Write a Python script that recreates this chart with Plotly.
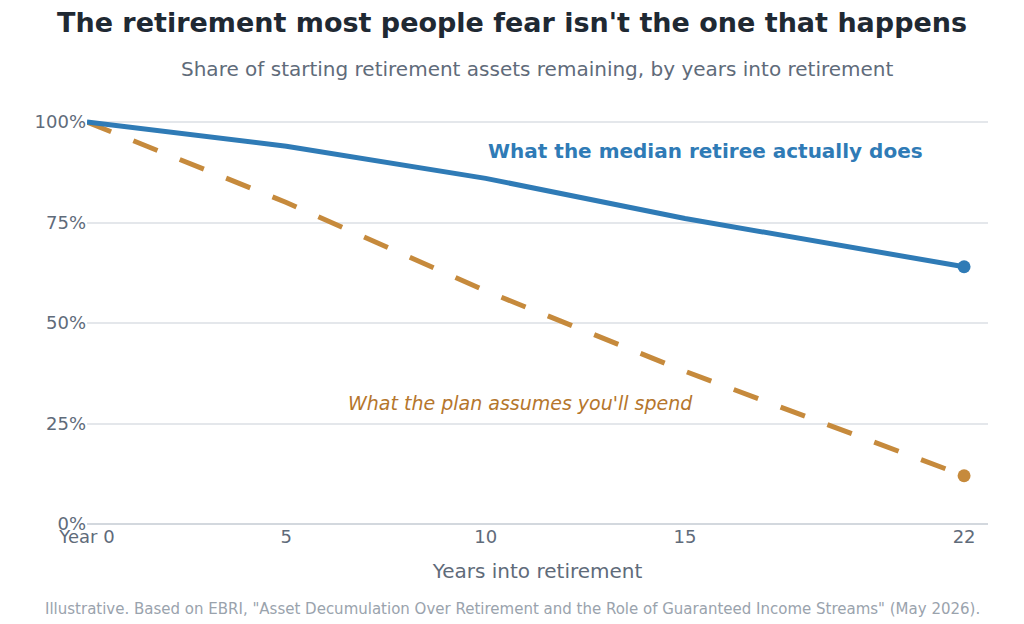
import plotly.graph_objects as go

years = [0, 5, 10, 15, 22]
actual = [1.00, 0.94, 0.86, 0.76, 0.64]
planned = [1.00, 0.80, 0.58, 0.38, 0.12]

x_ticks = [0, 5, 10, 15, 22]
x_labels = ["Year 0", "5", "10", "15", "22"]
y_ticks = [0, 0.25, 0.5, 0.75, 1.0]

BLUE = "#2f7bb6"
GOLD = "#c68a3c"
GOLD_TEXT = "#b5762c"
GREY = "#5f6b7a"
FONT = "DejaVu Sans"

fig = go.Figure()

# plan assumption (dashed)
fig.add_trace(go.Scatter(
    x=years, y=planned, mode="lines",
    line=dict(color=GOLD, width=5, dash="26px,24px"),
    hoverinfo="skip", showlegend=False
))
fig.add_trace(go.Scatter(
    x=[years[-1]], y=[planned[-1]], mode="markers",
    marker=dict(color=GOLD, size=13), showlegend=False
))

# what actually happens (solid)
fig.add_trace(go.Scatter(
    x=years, y=actual, mode="lines",
    line=dict(color=BLUE, width=5),
    hoverinfo="skip", showlegend=False
))
fig.add_trace(go.Scatter(
    x=[years[-1]], y=[actual[-1]], mode="markers",
    marker=dict(color=BLUE, size=13), showlegend=False
))

fig.add_annotation(
    x=10, y=0.928, xref="x", yref="y", xanchor="left", yanchor="middle",
    text="<b>What the median retiree actually does</b>", showarrow=False,
    font=dict(family=FONT, size=20, color=BLUE)
)
fig.add_annotation(
    x=6.5, y=0.30, xref="x", yref="y", xanchor="left", yanchor="middle",
    text="<i>What the plan assumes you'll spend</i>", showarrow=False,
    font=dict(family=FONT, size=19, color=GOLD_TEXT)
)

# title / subtitle / footnote
fig.add_annotation(
    x=0.4717, y=1, xref="paper", yref="paper", yanchor="middle", xanchor="center",
    text="<b>The retirement most people fear isn't the one that happens</b>",
    showarrow=False, yshift=86,
    font=dict(family=FONT, size=27, color="#1f2933")
)
fig.add_annotation(
    x=0.5, y=1, xref="paper", yref="paper", yanchor="middle", xanchor="center",
    text="Share of starting retirement assets remaining, by years into retirement",
    showarrow=False, yshift=39,
    font=dict(family=FONT, size=20, color=GREY)
)
fig.add_annotation(
    x=0.4717, y=0, xref="paper", yref="paper", yanchor="middle", xanchor="center",
    text='Illustrative. Based on EBRI, "Asset Decumulation Over Retirement and the Role of Guaranteed Income Streams" (May 2026).',
    showarrow=False, yshift=-85,
    font=dict(family=FONT, size=15, color="#9aa3ad")
)

fig.update_layout(
    width=1024, height=624,
    template="plotly_white",
    plot_bgcolor="white", paper_bgcolor="white",
    margin=dict(l=79, r=44, t=100, b=108),
    font=dict(family=FONT, color=GREY),
    xaxis=dict(
        range=[0, 22.6], tickvals=x_ticks, ticktext=x_labels,
        showgrid=False, zeroline=False, showline=False,
        tickfont=dict(size=18, color=GREY),
        title=dict(text="Years into retirement", font=dict(size=20, color=GREY), standoff=17),
    ),
    yaxis=dict(
        range=[0, 1.035], tickvals=y_ticks, tickformat=".0%",
        gridcolor="#e4e7eb", gridwidth=1.5, zeroline=True,
        zerolinecolor="#d3d8de", zerolinewidth=1.5,
        tickfont=dict(size=18, color=GREY),
    ),
)

fig.write_html("out.html")
